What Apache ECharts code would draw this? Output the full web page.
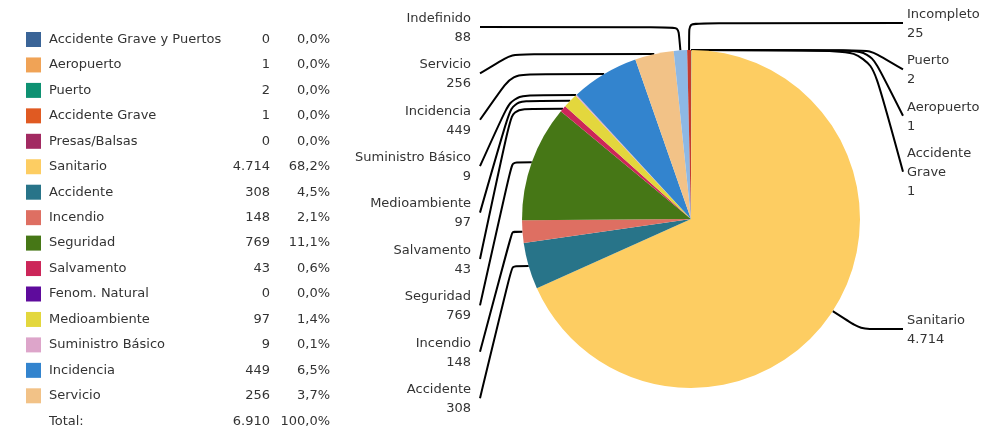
<!DOCTYPE html>
<html>
<head>
<meta charset="utf-8">
<script src="https://cdn.jsdelivr.net/npm/echarts@6/dist/echarts.min.js"></script>
<style>
  html, body { margin: 0; padding: 0; background: #fff; }
  #chart { width: 982px; height: 430px; }
</style>
</head>
<body>
<div id="chart"></div>
<script>
// ---- data ----
const legendNames = ['Accidente Grave y Puertos', 'Aeropuerto', 'Puerto', 'Accidente Grave', 'Presas/Balsas',
  'Sanitario', 'Accidente', 'Incendio', 'Seguridad', 'Salvamento', 'Fenom. Natural', 'Medioambiente',
  'Suministro Básico', 'Incidencia', 'Servicio'];
const legendValues = [0, 1, 2, 1, 0, 4714, 308, 148, 769, 43, 0, 97, 9, 449, 256];
const extraNames = ['Indefinido', 'Incompleto'];
const extraValues = [88, 25];
const totalLabel = 'Total:';

const colors = ['#3A6497', '#F0A356', '#0E9172', '#E05A22', '#A22A62', '#FDCD62', '#287489', '#DE6F62',
  '#467716', '#CC2659', '#5E0B9C', '#E3D73D', '#DDA5CA', '#3384CE', '#F2C287', '#8DB8E4', '#C43C30'];

// label columns (layout order)
const leftColumn = ['Indefinido', 'Servicio', 'Incidencia', 'Suministro Básico', 'Medioambiente',
  'Salvamento', 'Seguridad', 'Incendio', 'Accidente'];
const rightColumn = ['Incompleto', 'Puerto', 'Aeropuerto', 'Accidente Grave', 'Sanitario'];

// ---- helpers ----
const allNames = legendNames.concat(extraNames);
const allValues = legendValues.concat(extraValues);
const total = allValues.reduce((a, b) => a + b, 0);
const fmtNum = v => String(v).replace(/\B(?=(\d{3})+(?!\d))/g, '.');
const fmtPct = v => (v / total * 100).toFixed(1).replace('.', ',') + '%';

const FONT = "'DejaVu Sans', Verdana, sans-serif";
const TEXT = '#333333';
const CX = 691, CY = 219, R = 169;
const LINE_H = 19, GAP = 8.4;

const chart = echarts.init(document.getElementById('chart'), null, { renderer: 'canvas' });

const richCols = {
  n: { width: 180, padding: [0, 0, 0, 3], lineHeight: 15, fontFamily: FONT, fontSize: 13, color: TEXT },
  v: { width: 41, align: 'right', lineHeight: 15, fontFamily: FONT, fontSize: 13, color: TEXT },
  p: { width: 60, align: 'right', lineHeight: 15, fontFamily: FONT, fontSize: 13, color: TEXT }
};

function lineCount(name) {
  return name === 'Accidente Grave' ? 3 : 2;
}

const pieData = allNames.map((n, i) => {
  const item = { name: n, value: allValues[i], itemStyle: { color: colors[i] } };
  if (rightColumn.indexOf(n) >= 0) {
    item.label = { width: 76, overflow: 'break' };
  }
  return item;
});

function anchorFor(idx, params) {
  if (params.labelLinePoints && params.labelLinePoints[0]) {
    return params.labelLinePoints[0].slice();
  }
  let cum = 0;
  for (let i = 0; i < idx; i++) cum += allValues[i];
  const mid = (cum + allValues[idx] / 2) / total * Math.PI * 2;
  return [CX + R * Math.sin(mid), CY - R * Math.cos(mid)];
}

function rightCenters() {
  const ys = {};
  let y = 23;
  rightColumn.forEach((n, k) => {
    if (k > 0) {
      const prev = rightColumn[k - 1];
      y = y + lineCount(prev) * LINE_H / 2 + GAP + lineCount(n) * LINE_H / 2;
    }
    ys[n] = y;
  });
  return ys;
}
const rightY = rightCenters();

const option = {
  animation: false,
  color: colors,
  title: {
    left: 26 + 15 + 5,
    top: 414,
    padding: 0,
    text: '{n|' + totalLabel + '}{v|' + fmtNum(total) + '}{p|100,0%}',
    textStyle: { rich: richCols, fontFamily: FONT, fontSize: 13, color: TEXT, fontWeight: 'normal' }
  },
  legend: {
    orient: 'vertical',
    left: 26,
    top: 32,
    padding: 0,
    itemWidth: 15,
    itemHeight: 15,
    itemGap: 10.45,
    icon: 'rect',
    selectedMode: false,
    data: legendNames,
    formatter: function (name) {
      const i = legendNames.indexOf(name);
      return '{n|' + name + '}{v|' + fmtNum(legendValues[i]) + '}{p|' + fmtPct(legendValues[i]) + '}';
    },
    textStyle: { rich: richCols, fontFamily: FONT, fontSize: 13, color: TEXT }
  },
  series: [{
    type: 'pie',
    center: [CX, CY],
    radius: R,
    startAngle: 90,
    clockwise: true,
    avoidLabelOverlap: false,
    minShowLabelAngle: 0.01,
    silent: true,
    itemStyle: { borderWidth: 0 },
    label: {
      show: true,
      position: 'outer',
      fontFamily: FONT,
      fontSize: 13,
      lineHeight: LINE_H,
      color: TEXT,
      formatter: p => p.name + '\n' + fmtNum(p.value)
    },
    labelLine: {
      show: true,
      smooth: 0.15,
      lineStyle: { color: '#000000', width: 2 }
    },
    labelLayout: function (params) {
      const idx = params.dataIndex;
      const name = allNames[idx];
      const a = anchorFor(idx, params);
      const li = leftColumn.indexOf(name);
      if (li >= 0) {
        const ly = 27 + li * (2 * LINE_H + GAP);
        const endX = CX - R - 42;
        let pts;
        if (ly < a[1]) {
          pts = [a, [a[0] - 2, ly], [endX, ly]];
        } else {
          const ex = Math.min(a[0] - 1, CX - R - 10);
          pts = [a, [ex, a[1]], [endX, ly]];
        }
        return { x: CX - R - 51, y: ly + 1, align: 'right', verticalAlign: 'middle', labelLinePoints: pts };
      }
      let ly = rightY[name];
      const endX = CX + R + 43;
      let pts;
      if (name === 'Sanitario') {
        ly = Math.max(ly, a[1] + 18);
      }
      if (ly < a[1]) {
        pts = [a, [a[0], ly], [endX, ly]];
      } else if (a[1] < CY - 0.8 * R) {
        pts = [a, [CX + R + 10, a[1]], [endX, ly]];
      } else {
        pts = [a, [a[0] + 28, ly], [endX, ly]];
      }
      return { x: CX + R + 47, y: ly + 1, align: 'left', verticalAlign: 'middle', labelLinePoints: pts };
    },
    data: pieData
  }]
};

chart.setOption(option);
</script>
</body>
</html>
